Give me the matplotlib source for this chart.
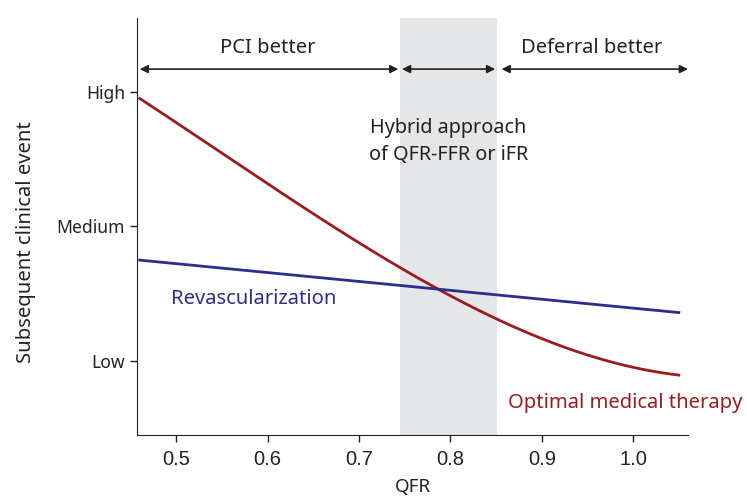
import numpy as np
import matplotlib.pyplot as plt

# data
qfr_red = [0.46, 0.5, 0.6, 0.7, 0.745, 0.785, 0.851, 0.9, 1.0, 1.05]
omt_event = [2.96, 2.75, 2.35, 1.86, 1.69, 1.53, 1.33, 1.16, 0.96, 0.89]
qfr_blue = [0.46, 1.05]
revasc_event = [1.75, 1.36]
y_ticks = [1, 2, 3]
y_labels = ["Low", "Medium", "High"]
x_ticks = [0.5, 0.6, 0.7, 0.8, 0.9, 1.0]
grey_zone = (0.745, 0.851)

red = "#9b1b1f"
blue = "#2b2e8c"
txt = "#222222"

plt.rcParams["font.family"] = ["Noto Sans", "DejaVu Sans"]

fig = plt.figure(figsize=(7.47, 4.98), dpi=100)
ax = fig.add_axes([0.1834, 0.1265, 0.921 - 0.1834, 0.9639 - 0.1265])

ax.axvspan(grey_zone[0], grey_zone[1], color="#e5e6e8", lw=0, zorder=0)

# smooth the red curve through the read points
xs = np.linspace(qfr_red[0], qfr_red[-1], 200)
coef = np.polyfit(qfr_red, omt_event, 3)
ax.plot(xs, np.polyval(coef, xs), color=red, lw=2)
ax.plot(qfr_blue, revasc_event, color=blue, lw=2)

ax.set_xlim(0.457, 1.06)
ax.set_ylim(0.45, 3.55)
ax.set_xticks(x_ticks)
ax.set_xticklabels([f"{v:.1f}" for v in x_ticks], family="Liberation Sans", fontsize=14.5, color=txt)
ax.set_yticks(y_ticks)
ax.set_yticklabels(y_labels, fontsize=12.6, color=txt)
ax.tick_params(length=5, width=1, color=txt)
ax.tick_params(axis="x", pad=6)
for s in ["top", "right"]:
    ax.spines[s].set_visible(False)
for s in ["left", "bottom"]:
    ax.spines[s].set_color(txt)

ax.set_xlabel("QFR", fontsize=13.5, color=txt, labelpad=6)
ax.set_ylabel("Subsequent clinical event", fontsize=14.6, color=txt, labelpad=15, y=0.462)

# arrows across the top
arr_y = 3.17
aprops = dict(arrowstyle="<|-|>", color=txt, lw=1.2, mutation_scale=12, shrinkA=0, shrinkB=0)
for a, b in [(0.46, 0.743), (0.747, 0.849), (0.856, 1.06)]:
    ax.annotate("", xy=(b, arr_y), xytext=(a, arr_y), arrowprops=aprops, annotation_clip=False)

ax.text(0.6, 3.33, "PCI better", ha="center", va="center", fontsize=14.5, color=txt)
ax.text(0.955, 3.33, "Deferral better", ha="center", va="center", fontsize=14.5, color=txt)
ax.text(0.798, 2.63, "Hybrid approach\nof QFR-FFR or iFR", ha="center", va="center",
        fontsize=14.3, color=txt, linespacing=1.45)
ax.text(0.494, 1.46, "Revascularization", ha="left", va="center", fontsize=14.5, color=blue)
ax.text(0.863, 0.69, "Optimal medical therapy", ha="left", va="center", fontsize=14.5,
        color=red, clip_on=False)

fig.savefig("out.png", dpi=100)
